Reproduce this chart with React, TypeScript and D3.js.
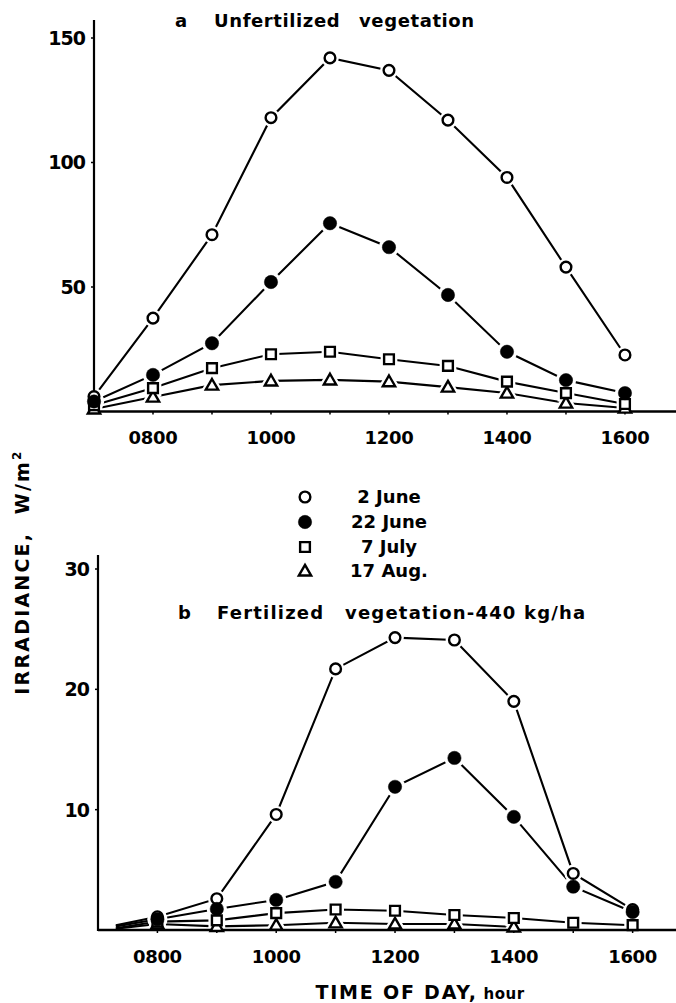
import React from "react";
import * as d3 from "d3";

// ---- data ----
const hoursTop = [7, 8, 9, 10, 11, 12, 13, 14, 15, 16];
const june2Top = [6, 37.5, 71, 118, 142, 137, 117, 94, 58, 22.7];
const june22Top = [4, 14.7, 27.4, 52, 75.6, 66, 46.8, 24, 12.6, 7.4];
const july7Top = [2.5, 9.4, 17.4, 23, 24, 21, 18.3, 12, 7.4, 3];
const aug17Top = [1, 5.8, 10.6, 12.3, 12.7, 12, 9.8, 7.4, 3.4, 1.4];

const startHourBot = 7.3;
const startBot = [0.4, 0.3, 0.15, 0.1];
const hoursBot = [8, 9, 10, 11, 12, 13, 14, 15, 16];
const june2Bot = [1.1, 2.6, 9.6, 21.7, 24.3, 24.1, 19.0, 4.7, 1.7];
const june22Bot = [0.9, 1.75, 2.5, 4.0, 11.9, 14.3, 9.4, 3.6, 1.5];
const july7Bot = [0.7, 0.8, 1.4, 1.7, 1.6, 1.25, 1.0, 0.6, 0.4];
const aug17Bot: (number | null)[] = [0.5, 0.3, 0.4, 0.6, 0.5, 0.5, 0.25, null, null];

const seriesNames = ["2 June", "22 June", "7 July", "17 Aug."];
const seriesSymbols = ["openCircle", "filledCircle", "square", "triangle"];
const xTickValues = [8, 10, 12, 14, 16];
const xTickLabels = ["0800", "1000", "1200", "1400", "1600"];
const yTicksTop = [50, 100, 150];
const yTicksBot = [10, 20, 30];

type Pt = { h: number; v: number | null; marked: boolean };

const font = "'DejaVu Sans', Verdana, sans-serif";

function symbolPath(kind: string) {
  if (kind === "openCircle") return d3.symbol(d3.symbolCircle, 90)()!;
  if (kind === "filledCircle") return d3.symbol(d3.symbolCircle, 140)()!;
  if (kind === "square") return d3.symbol(d3.symbolSquare, 95)()!;
  return d3.symbol(d3.symbolTriangle, 66)()!;
}

function Marker({ kind, x, y, halo }: { kind: string; x: number; y: number; halo?: boolean }) {
  const filled = kind === "filledCircle";
  const dy = kind === "triangle" ? 1 : 0;
  if (halo) {
    return (
      <path
        d={symbolPath(kind)}
        transform={`translate(${x},${y + dy})`}
        fill="white"
        stroke="white"
        strokeWidth={7}
      />
    );
  }
  return (
    <path
      d={symbolPath(kind)}
      transform={`translate(${x},${y + dy})`}
      fill={filled ? "black" : "white"}
      stroke="black"
      strokeWidth={filled ? 0.5 : 2.4}
    />
  );
}

function Panel({
  series,
  x,
  y,
  yTicks,
  axisTop,
  axisRight,
  labelY,
}: {
  series: Pt[][];
  x: d3.ScaleLinear<number, number>;
  y: d3.ScaleLinear<number, number>;
  yTicks: number[];
  axisTop: number;
  axisRight: number;
  labelY: number;
}) {
  const line = d3
    .line<Pt>()
    .defined((d) => d.v != null)
    .x((d) => x(d.h))
    .y((d) => y(d.v as number));
  const x0 = x(7);
  const y0 = y(0);
  const order = [3, 2, 0, 1];
  return (
    <g>
      {series.map((s, i) => (
        <path key={"l" + i} d={line(s) || ""} fill="none" stroke="black" strokeWidth={2.1} />
      ))}
      {order.map((i) =>
        series[i]
          .filter((p) => p.marked && p.v != null)
          .map((p, j) => <Marker key={`h${i}-${j}`} kind={seriesSymbols[i]} x={x(p.h)} y={y(p.v as number)} halo />)
      )}
      {/* axes */}
      <line x1={x0} x2={x0} y1={axisTop} y2={y0 + 1} stroke="black" strokeWidth={2.2} />
      <line x1={x0} x2={axisRight} y1={y0} y2={y0} stroke="black" strokeWidth={2.4} />
      {yTicks.map((t) => (
        <g key={"yt" + t}>
          <line x1={x0 - 3} x2={x0} y1={y(t)} y2={y(t)} stroke="black" strokeWidth={1.5} />
          <text
            x={x0 - 9}
            y={y(t)}
            dy="0.36em"
            textAnchor="end"
            fontFamily={font}
            fontSize={19}
            letterSpacing={-1}
          >
            {t}
          </text>
        </g>
      ))}
      {hoursBot.map((h) => (
        <line key={"xt" + h} x1={x(h)} x2={x(h)} y1={y0} y2={y0 + 3} stroke="black" strokeWidth={1.5} />
      ))}
      {xTickValues.map((t, i) => (
        <text
          key={"xl" + t}
          x={x(t)}
          y={labelY}
          textAnchor="middle"
          fontFamily={font}
          fontSize={18}
          letterSpacing={-0.3}
        >
          {xTickLabels[i]}
        </text>
      ))}
      {order.map((i) =>
        series[i]
          .filter((p) => p.marked && p.v != null)
          .map((p, j) => <Marker key={`m${i}-${j}`} kind={seriesSymbols[i]} x={x(p.h)} y={y(p.v as number)} />)
      )}
    </g>
  );
}

export default function App() {
  const xTop = d3.scaleLinear().domain([7, 16.865]).range([94, 676]);
  const yTop = d3.scaleLinear().domain([0, 150]).range([411.5, 38]);
  const xBot = d3.scaleLinear().domain([7, 16.73]).range([98, 676]);
  const yBot = d3.scaleLinear().domain([0, 30]).range([930, 569]);

  const topVals = [june2Top, june22Top, july7Top, aug17Top];
  const topSeries: Pt[][] = topVals.map((vals) => vals.map((v, i) => ({ h: hoursTop[i], v, marked: true })));
  const botVals = [june2Bot, june22Bot, july7Bot, aug17Bot];
  const botSeries: Pt[][] = botVals.map((vals, k) => [
    { h: startHourBot, v: startBot[k], marked: false },
    ...vals.map((v, i) => ({ h: hoursBot[i], v, marked: true })),
  ]);

  const legendY = [497, 522, 547, 571];

  return (
    <svg
      width={676}
      height={1003}
      style={{ position: "absolute", left: 0, top: 0, background: "white" }}
      fontWeight="bold"
    >
      <rect width={676} height={1003} fill="white" />
      <text y={27} fontFamily={font} fontSize={18} fontWeight="bold" letterSpacing={0.6}>
        <tspan x={175}>a</tspan>
        <tspan x={214}>Unfertilized</tspan>
        <tspan x={359}>vegetation</tspan>
      </text>
      <Panel series={topSeries} x={xTop} y={yTop} yTicks={yTicksTop} axisTop={20} axisRight={676} labelY={444} />

      {/* legend */}
      {seriesNames.map((n, i) => (
        <g key={"lg" + i}>
          <Marker kind={seriesSymbols[i]} x={305} y={legendY[i]} />
          <text x={389} y={legendY[i]} dy="0.36em" textAnchor="middle" fontFamily={font} fontSize={18}>
            {n}
          </text>
        </g>
      ))}

      <text y={619} fontFamily={font} fontSize={18} fontWeight="bold" letterSpacing={1.2}>
        <tspan x={178}>b</tspan>
        <tspan x={217}>Fertilized</tspan>
        <tspan x={345}>vegetation-440 kg/ha</tspan>
      </text>
      <Panel series={botSeries} x={xBot} y={yBot} yTicks={yTicksBot} axisTop={555} axisRight={676} labelY={963} />

      {/* axis titles */}
      <text
        transform="translate(29,572) rotate(-90)"
        textAnchor="middle"
        fontFamily={font}
        fontSize={19}
        letterSpacing={2.2}
      >
        IRRADIANCE,{"\u00a0\u00a0"}W/m<tspan dy={-8} fontSize={12}>2</tspan>
      </text>
      <text x={420} y={999} textAnchor="middle" fontFamily={font} fontSize={19} letterSpacing={1.8}>
        TIME OF DAY,<tspan fontSize={15} letterSpacing={0.5}> hour</tspan>
      </text>
    </svg>
  );
}
